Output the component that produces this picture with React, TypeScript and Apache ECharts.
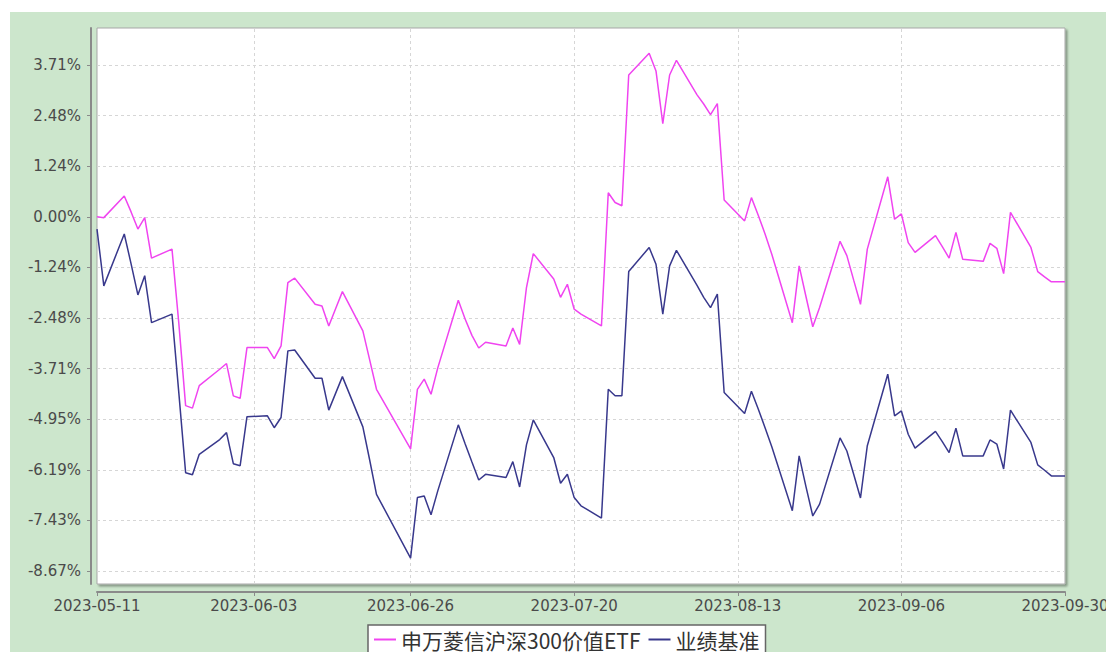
import React, { useEffect, useRef } from "react";
import * as echarts from "echarts";

const seriesNames = ["申万菱信沪深300价值ETF", "业绩基准"];

const dates = [
  "2023-05-11", "2023-05-12", "2023-05-15", "2023-05-16", "2023-05-17", "2023-05-18", "2023-05-19",
  "2023-05-22", "2023-05-23", "2023-05-24", "2023-05-25", "2023-05-26", "2023-05-29", "2023-05-30",
  "2023-05-31", "2023-06-01", "2023-06-02", "2023-06-05", "2023-06-06", "2023-06-07", "2023-06-08",
  "2023-06-09", "2023-06-12", "2023-06-13", "2023-06-14", "2023-06-15", "2023-06-16", "2023-06-19",
  "2023-06-20", "2023-06-21", "2023-06-26", "2023-06-27", "2023-06-28", "2023-06-29", "2023-06-30",
  "2023-07-03", "2023-07-04", "2023-07-05", "2023-07-06", "2023-07-07", "2023-07-10", "2023-07-11",
  "2023-07-12", "2023-07-13", "2023-07-14", "2023-07-17", "2023-07-18", "2023-07-19", "2023-07-20",
  "2023-07-21", "2023-07-24", "2023-07-25", "2023-07-26", "2023-07-27", "2023-07-28", "2023-07-31",
  "2023-08-01", "2023-08-02", "2023-08-03", "2023-08-04", "2023-08-07", "2023-08-08", "2023-08-09",
  "2023-08-10", "2023-08-11", "2023-08-14", "2023-08-15", "2023-08-16", "2023-08-17", "2023-08-18",
  "2023-08-21", "2023-08-22", "2023-08-23", "2023-08-24", "2023-08-25", "2023-08-28", "2023-08-29",
  "2023-08-30", "2023-08-31", "2023-09-01", "2023-09-04", "2023-09-05", "2023-09-06", "2023-09-07",
  "2023-09-08", "2023-09-11", "2023-09-12", "2023-09-13", "2023-09-14", "2023-09-15", "2023-09-18",
  "2023-09-19", "2023-09-20", "2023-09-21", "2023-09-22", "2023-09-25", "2023-09-26", "2023-09-27",
  "2023-09-28", "2023-09-30",
];

const fundValues = [
  0.0, -0.02, 0.51, 0.12, -0.3, -0.02, -1.01,
  -0.79, -2.6, -4.62, -4.68, -4.13, -3.73, -3.59,
  -4.38, -4.44, -3.2, -3.2, -3.47, -3.16, -1.61,
  -1.5, -2.14, -2.18, -2.67, -2.25, -1.83, -2.79,
  -3.5, -4.22, -5.68, -4.22, -3.97, -4.34, -3.69,
  -2.04, -2.5, -2.9, -3.21, -3.07, -3.16, -2.72,
  -3.12, -1.73, -0.9, -1.52, -1.97, -1.65, -2.26,
  -2.38, -2.67, 0.59, 0.35, 0.27, 3.47, 4.0,
  3.57, 2.28, 3.47, 3.83, 2.99, 2.76, 2.5,
  2.77, 0.41, -0.1, 0.47, 0.04, -0.42, -0.92,
  -2.59, -1.2, -1.95, -2.69, -2.22, -0.6, -0.95,
  -1.55, -2.14, -0.79, 0.98, -0.06, 0.07, -0.63,
  -0.87, -0.46, -0.73, -1.01, -0.38, -1.04, -1.09,
  -0.65, -0.77, -1.39, 0.11, -0.75, -1.34, -1.47,
  -1.59, -1.59,
];

const benchmarkValues = [
  -0.3, -1.69, -0.42, -1.15, -1.91, -1.44, -2.59,
  -2.38, -4.3, -6.26, -6.31, -5.81, -5.45, -5.28,
  -6.04, -6.09, -4.89, -4.87, -5.16, -4.91, -3.28,
  -3.26, -3.95, -3.95, -4.73, -4.32, -3.91, -5.14,
  -5.95, -6.79, -8.35, -6.87, -6.83, -7.29, -6.7,
  -5.09, -5.55, -6.0, -6.44, -6.3, -6.38, -5.99,
  -6.61, -5.58, -4.97, -5.89, -6.52, -6.3, -6.87,
  -7.07, -7.37, -4.22, -4.38, -4.38, -1.34, -0.75,
  -1.16, -2.38, -1.2, -0.82, -1.67, -1.97, -2.22,
  -1.89, -4.3, -4.81, -4.27, -4.7, -5.16, -5.63,
  -7.19, -5.85, -6.6, -7.32, -7.03, -5.41, -5.73,
  -6.3, -6.88, -5.6, -3.85, -4.87, -4.75, -5.32,
  -5.66, -5.25, -5.5, -5.77, -5.17, -5.85, -5.85,
  -5.46, -5.56, -6.17, -4.73, -5.52, -6.07, -6.2,
  -6.34, -6.34,
];

const yTickValues = [3.714, 2.476, 1.238, 0, -1.238, -2.476, -3.714, -4.952, -6.19, -7.428, -8.666];
const yTickLabels = ["3.71%", "2.48%", "1.24%", "0.00%", "-1.24%", "-2.48%", "-3.71%", "-4.95%", "-6.19%", "-7.43%", "-8.67%"];
const yMin = -8.984;
const yMax = 4.62;

const xTickDates = ["2023-05-11", "2023-06-03", "2023-06-26", "2023-07-20", "2023-08-13", "2023-09-06", "2023-09-30"];

const DAY = 86400000;
const toTs = (s: string) => {
  const [y, m, d] = s.split("-").map(Number);
  return Date.UTC(y, m - 1, d);
};
const pad = (n: number) => (n < 10 ? "0" + n : "" + n);
const fmtDate = (v: number) => {
  const d = new Date(Math.round(v / DAY) * DAY);
  return `${d.getUTCFullYear()}-${pad(d.getUTCMonth() + 1)}-${pad(d.getUTCDate())}`;
};

export default function App() {
  const ref = useRef<HTMLDivElement>(null);
  useEffect(() => {
    if (!ref.current) return;
    const chart = echarts.init(ref.current, undefined, { renderer: "svg" });
    const xTicks = xTickDates.map(toTs);
    const labelFont = { fontFamily: "DejaVu Sans", fontSize: 15, color: "#4a4a4a" };
    chart.setOption({
      animation: false,
      backgroundColor: "transparent",
      grid: {
        left: 97,
        top: 28,
        right: 41,
        bottom: 68,
        outerBoundsMode: "none",
        containLabel: false,
        show: true,
        backgroundColor: "#ffffff",
        borderColor: "#a8a8a8",
        borderWidth: 1,
        shadowColor: "rgba(0,0,0,0.35)",
        shadowBlur: 2,
        shadowOffsetX: 2,
        shadowOffsetY: 2,
      },
      legend: {
        data: seriesNames,
        left: 368,
        top: 625,
        backgroundColor: "#ffffff",
        borderColor: "#666",
        borderWidth: 1.5,
        padding: [4, 6, 4, 6],
        itemGap: 8,
        itemWidth: 22,
        itemHeight: 2,
        icon: "rect",
        textStyle: { fontSize: 21, color: "#333", fontFamily: "Noto Sans CJK SC" },
      },
      xAxis: {
        type: "value",
        min: xTicks[0],
        max: xTicks[xTicks.length - 1],
        offset: 8,
        axisLine: { show: true, onZero: false, lineStyle: { color: "#8a8a8a", width: 2 } },
        axisTick: { show: true, customValues: xTicks, length: 4, lineStyle: { color: "#8a8a8a", width: 1 } },
        axisLabel: {
          customValues: xTicks,
          formatter: (v: number) => fmtDate(v),
          margin: 6,
          ...labelFont,
        },
        splitLine: { show: false },
      },
      yAxis: {
        type: "value",
        min: yMin,
        max: yMax,
        offset: 6,
        axisLine: { show: true, onZero: false, lineStyle: { color: "#8a8a8a", width: 2 } },
        axisTick: { show: true, customValues: yTickValues, length: 4, lineStyle: { color: "#8a8a8a", width: 1 } },
        axisLabel: {
          customValues: yTickValues,
          formatter: (v: number) => {
            const i = yTickValues.findIndex((t) => Math.abs(t - v) < 1e-6);
            return i >= 0 ? yTickLabels[i] : "";
          },
          margin: 10,
          ...labelFont,
        },
        splitLine: { show: false },
      },
      series: [
        {
          name: "grid",
          type: "line",
          data: [],
          silent: true,
          markLine: {
            silent: true,
            symbol: "none",
            z: 1,
            label: { show: false },
            lineStyle: { color: "#d6d6d6", type: [3, 3], width: 1 },
            emphasis: { disabled: true },
            data: [
              ...yTickValues.map((v) => ({ yAxis: v })),
              ...xTicks.slice(1, -1).map((t) => ({ xAxis: t })),
            ],
          },
        },
        {
          name: seriesNames[0],
          type: "line",
          symbol: "none",
          showSymbol: false,
          z: 3,
          color: "#f044f0",
          lineStyle: { color: "#f044f0", width: 1.5 },
          data: dates.map((d, i) => [toTs(d), fundValues[i]]),
        },
        {
          name: seriesNames[1],
          type: "line",
          symbol: "none",
          showSymbol: false,
          z: 3,
          color: "#38388c",
          lineStyle: { color: "#38388c", width: 1.5 },
          data: dates.map((d, i) => [toTs(d), benchmarkValues[i]]),
        },
      ],
    });
    return () => chart.dispose();
  }, []);
  return (
    <div style={{ position: "fixed", left: 0, top: 0, width: 1106, height: 652, background: "#ffffff", overflow: "hidden" }}>
      <div style={{ position: "absolute", left: 10, top: 12, width: 1096, height: 640, background: "#cce6cc" }} />
      <div ref={ref} style={{ position: "absolute", left: 0, top: 0, width: 1106, height: 652 }} />
    </div>
  );
}
